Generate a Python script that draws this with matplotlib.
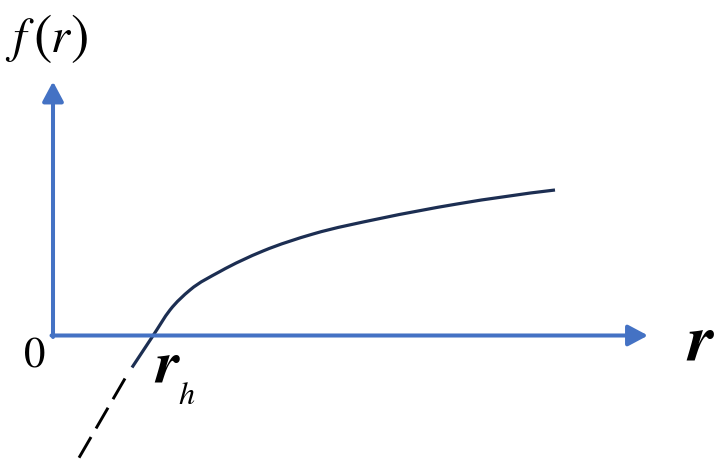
import numpy as np
import matplotlib.pyplot as plt
from matplotlib.path import Path
from matplotlib.patches import PathPatch

plt.rcParams['mathtext.fontset'] = 'stix'
plt.rcParams['font.family'] = 'STIXGeneral'

# curve (r, f(r)), origin at the axes corner
r_solid = [0.79, 0.995, 1.17, 1.37, 1.67, 2.10, 2.60, 3.27, 4.04, 5.02]
f_solid = [-0.32, -0.01, 0.255, 0.455, 0.64, 0.845, 1.015, 1.17, 1.315, 1.455]
r_dash = [0.72, 0.25]
f_dash = [-0.43, -1.24]

axis_color = '#4472C4'
curve_color = '#1C2E52'


def smooth_path(xs, ys):
    # cubic bezier segments through the read points, slopes from neighbours
    x = np.asarray(xs, float)
    y = np.asarray(ys, float)
    h = np.diff(x)
    s = np.diff(y) / h
    d = np.empty_like(x)
    d[1:-1] = (h[1:] * s[:-1] + h[:-1] * s[1:]) / (h[:-1] + h[1:])
    d[0] = 2 * s[0] - d[1] if abs(2 * s[0] - d[1]) < 3 * abs(s[0]) else s[0]
    d[-1] = 2 * s[-1] - d[-2]
    verts = [(x[0], y[0])]
    codes = [Path.MOVETO]
    for i in range(len(h)):
        verts += [(x[i] + h[i] / 3, y[i] + d[i] * h[i] / 3),
                  (x[i + 1] - h[i] / 3, y[i + 1] - d[i + 1] * h[i] / 3),
                  (x[i + 1], y[i + 1])]
        codes += [Path.CURVE4] * 3
    return Path(verts, codes)


fig = plt.figure(figsize=(7.22, 4.62), dpi=100)
ax = fig.add_axes([0, 0, 1, 1])
ax.set_xlim(-0.53, 6.69)
ax.set_ylim(-1.265, 3.355)
ax.axis('off')

# axes with arrow heads
arrow = dict(arrowstyle='-|>,head_length=0.6,head_width=0.32', color=axis_color,
             lw=2.9, mutation_scale=20, shrinkA=0, shrinkB=0)
ax.annotate('', xy=(5.95, 0), xytext=(-0.015, 0), arrowprops=arrow)
ax.annotate('', xy=(0, 2.54), xytext=(0, -0.015), arrowprops=arrow)

ax.add_patch(PathPatch(smooth_path(r_solid, f_solid), facecolor='none',
                       edgecolor=curve_color, lw=2.3, capstyle='butt'))
ax.plot(r_dash, f_dash, color='black', lw=2.1, dashes=(8.2, 3.4))

# f(r) label, with the tall brackets of the original
ax.text(-0.33, 2.84, r'$f$', fontsize=35, ha='center', va='baseline')
ax.text(-0.105, 2.955, '(', fontsize=40, ha='center', va='center')
ax.text(0.08, 2.84, r'$r$', fontsize=35, ha='center', va='baseline')
ax.text(0.27, 2.955, ')', fontsize=40, ha='center', va='center')

ax.text(-0.18, -0.215, '0', fontsize=31, ha='center', va='center')
ax.text(6.48, -0.10, r'$\boldsymbol{r}$', fontsize=48, ha='center', va='center')
ax.text(1.01, -0.47, r'$\boldsymbol{r}$', fontsize=44, ha='left', va='baseline')
ax.text(1.245, -0.69, r'$h$', fontsize=23, ha='left', va='baseline')

fig.savefig('out.png', dpi=100)
